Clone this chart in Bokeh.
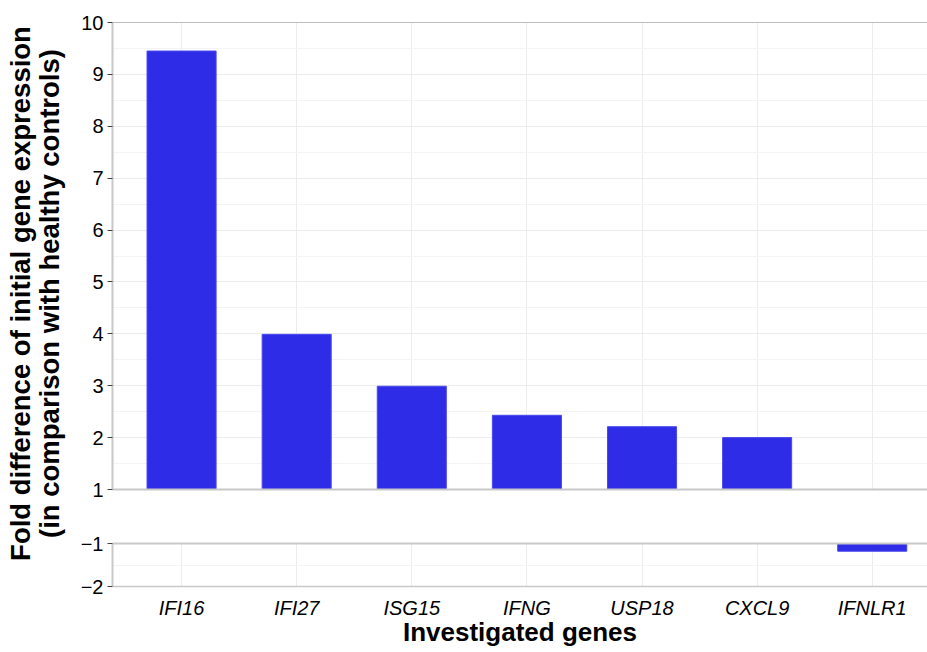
import math
from bokeh.plotting import figure
from bokeh.layouts import row, column
from bokeh.models import (Range1d, FixedTicker, LinearAxis, ColumnDataSource)
from bokeh.core.properties import value
from bokeh.embed import file_html
from bokeh.resources import INLINE

# ---- data ----
genes = ["IFI16", "IFI27", "ISG15", "IFNG", "USP18", "CXCL9", "IFNLR1"]
fold_change = [9.45, 3.99, 2.99, 2.43, 2.21, 2.0, -1.18]
upper_ticks = [1, 2, 3, 4, 5, 6, 7, 8, 9, 10]
lower_ticks = [-2, -1]
y_title_lines = ["Fold difference of initial gene expression",
                 "(in comparison with healthy controls)"]
x_title = "Investigated genes"

FONT = "Liberation Sans"
BAR = "#2e2ce6"
AXIS_GRAY = "#c8c8c8"
GRID = "#ececec"

xs = list(range(len(genes)))
up = ColumnDataSource(dict(x=[i for i, v in zip(xs, fold_change) if v > 0],
                           top=[v for v in fold_change if v > 0]))
lo = ColumnDataSource(dict(x=[i for i, v in zip(xs, fold_change) if v < 0],
                           bottom=[v for v in fold_change if v < 0]))

x_range = Range1d(-0.6, 6.48)

def style_y(p, ticks, overrides=None):
    ax = p.left[0]
    ax.ticker = FixedTicker(ticks=ticks,
                            minor_ticks=[t + 0.5 for t in ticks[:-1]])
    ax.axis_line_color = AXIS_GRAY
    ax.axis_line_width = 2
    ax.major_tick_out = 5
    ax.major_tick_in = 0
    ax.major_tick_line_color = "#444444"
    ax.minor_tick_line_color = None
    ax.major_label_text_font = FONT
    ax.major_label_text_font_size = "20px"
    ax.major_label_text_color = "black"
    ax.major_label_standoff = 4
    if overrides:
        ax.major_label_overrides = overrides
    p.ygrid.ticker = ax.ticker
    p.ygrid.grid_line_color = GRID
    p.ygrid.minor_grid_line_color = "#f4f4f4"
    p.xgrid.ticker = FixedTicker(ticks=xs)
    p.xgrid.grid_line_color = GRID

def bare_axis(color, width):
    a = LinearAxis(ticker=FixedTicker(ticks=[]))
    a.axis_line_color = color
    a.axis_line_width = width
    a.major_tick_line_color = None
    a.minor_tick_line_color = None
    a.major_label_text_font_size = "0px"
    a.major_label_standoff = 0
    return a

# ---- upper panel (1 .. 10) ----
upper = figure(width=857, height=516, x_range=x_range, y_range=Range1d(1, 10),
               output_backend="svg", toolbar_location=None,
               min_border_left=42, min_border_right=0,
               min_border_top=22, min_border_bottom=27,
               x_axis_location=None)
upper.outline_line_color = None
style_y(upper, upper_ticks)
upper.add_layout(bare_axis("#bdbdbd", 1.2), "above")
upper.add_layout(bare_axis(AXIS_GRAY, 2), "below")
upper.vbar(x="x", top="top", bottom=1, width=0.6, source=up,
           fill_color=BAR, line_color="#4a48ee", line_width=1)

# ---- lower panel (-2 .. -1) ----
lower = figure(width=857, height=134, x_range=x_range, y_range=Range1d(-2, -1),
               output_backend="svg", toolbar_location=None,
               min_border_left=42, min_border_right=0,
               min_border_top=27, min_border_bottom=64)
lower.outline_line_color = None
style_y(lower, lower_ticks, {-1: "\u22121", -2: "\u22122"})
xa = lower.below[0]
xa.ticker = FixedTicker(ticks=xs)
xa.major_label_overrides = {i: g for i, g in zip(xs, genes)}
xa.axis_line_color = AXIS_GRAY
xa.axis_line_width = 1.5
xa.major_tick_line_color = None
xa.minor_tick_line_color = None
xa.major_label_text_font = FONT
xa.major_label_text_font_style = "italic"
xa.major_label_text_font_size = "20px"
xa.major_label_text_color = "black"
xa.major_label_standoff = 4
xa.axis_label = x_title
xa.axis_label_text_font = FONT
xa.axis_label_text_font_style = "bold"
xa.axis_label_text_font_size = "26px"
xa.axis_label_text_color = "black"
xa.axis_label_standoff = -5
lower.add_layout(bare_axis(AXIS_GRAY, 2), "above")
lower.vbar(x="x", top=-1, bottom="bottom", width=0.6, source=lo,
           fill_color=BAR, line_color="#4a48ee", line_width=1)

# ---- y-axis title panel ----
ttl = figure(width=70, height=650, x_range=Range1d(0, 70), y_range=Range1d(0, 650),
             output_backend="svg", toolbar_location=None, min_border=0)
ttl.axis.visible = False
ttl.grid.visible = False
ttl.outline_line_color = None
ttl.text(x=[20, 49], y=[357, 357], text=y_title_lines, angle=math.pi / 2,
         text_align="center", text_baseline="middle",
         text_font=value(FONT), text_font_style="bold",
         text_font_size="27.5px", text_color="black")

layout = row(ttl, column(upper, lower))
open("out.html", "w").write(file_html(layout, INLINE))
